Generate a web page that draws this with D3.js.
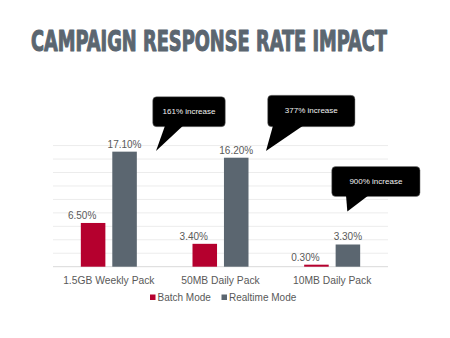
<!DOCTYPE html>
<html><head><meta charset="utf-8">
<script src="https://cdn.jsdelivr.net/npm/d3@7"></script>
<style>html,body{margin:0;padding:0;background:#fff;}svg{display:block;}</style>
</head><body>
<svg id="c" width="450" height="338"></svg>
<script>
const categories = ["1.5GB Weekly Pack", "50MB Daily Pack", "10MB Daily Pack"];
const seriesNames = ["Batch Mode", "Realtime Mode"];
const batchValues = [6.5, 3.4, 0.3];
const realtimeValues = [17.1, 16.2, 3.3];
const yTicks = [0, 2, 4, 6, 8, 10, 12, 14, 16, 18];
const calloutTexts = ["161% increase", "377% increase", "900% increase"];
const calloutValues = [17.2, 17.2, 8.2]; // data-space level the tail points at

const colors = {"Batch Mode": "#b5002e", "Realtime Mode": "#5b6670"};
const svg = d3.select("#c");
const plot = {l: 53, r: 388, t: 145, b: 266.7};
const FONT = "'Liberation Sans',Arial,Helvetica,sans-serif";

svg.append("text").attr("x", 31).attr("y", 50.5)
  .attr("font-family", "'Liberation Sans Narrow','DejaVu Sans Condensed',sans-serif")
  .attr("font-weight", "bold").attr("font-size", 29)
  .attr("textLength", 356).attr("lengthAdjust", "spacingAndGlyphs")
  .attr("fill", "#5b6670").attr("stroke", "#5b6670").attr("stroke-width", 1.1)
  .attr("stroke-linejoin", "round")
  .text("CAMPAIGN RESPONSE RATE IMPACT");

const x0 = d3.scaleBand().domain(categories).range([plot.l, plot.r]).padding(0);
const groupW = 56;
const x1 = d3.scaleBand().domain(seriesNames).range([0, groupW]).paddingInner(0.22).paddingOuter(0);
const y = d3.scaleLinear().domain([0, 18]).range([plot.b, plot.b - 121.1]);

svg.append("g").selectAll("line").data(yTicks).join("line")
  .attr("x1", plot.l).attr("x2", plot.r)
  .attr("y1", d => y(d)).attr("y2", d => y(d))
  .attr("stroke", d => d === 0 ? "#d9d9d9" : "#ececec").attr("stroke-width", 1);

const rows = categories.map((c, i) => ({cat: c, vals: [
  {s: "Batch Mode", v: batchValues[i]}, {s: "Realtime Mode", v: realtimeValues[i]}]}));
const off = (x0.bandwidth() - groupW) / 2;

const g = svg.append("g").selectAll("g").data(rows).join("g")
  .attr("transform", d => `translate(${x0(d.cat) + off},0)`);
g.selectAll("rect").data(d => d.vals).join("rect")
  .attr("x", d => x1(d.s)).attr("width", x1.bandwidth())
  .attr("y", d => y(d.v)).attr("height", d => y(0) - y(d.v))
  .attr("fill", d => colors[d.s]);
g.selectAll("text").data(d => d.vals).join("text")
  .attr("x", d => x1(d.s) + x1.bandwidth() / 2 + (d.s === "Batch Mode" ? -11 : 0))
  .attr("y", d => y(d.v) - 4)
  .attr("text-anchor", "middle").attr("font-family", FONT)
  .attr("font-size", 10).attr("fill", "#595959")
  .text(d => d.v.toFixed(2) + "%");

const xAxis = svg.append("g").attr("transform", `translate(0,${plot.b})`)
  .call(d3.axisBottom(x0).tickSize(0).tickPadding(10));
xAxis.select(".domain").remove();
xAxis.selectAll("text").attr("font-family", FONT)
  .attr("font-size", 10.3).attr("fill", "#595959");

const leg = svg.append("g").attr("font-family", FONT);
const legX = [150, 221.5];
seriesNames.forEach((s, i) => {
  leg.append("rect").attr("x", legX[i]).attr("y", 294.5).attr("width", 5.5).attr("height", 5.5).attr("fill", colors[s]);
  leg.append("text").attr("x", legX[i] + 7.5).attr("y", 300.5).attr("font-size", 10)
    .attr("fill", "#595959").text(s);
});

const calloutLayout = [
  {dx: 103, box: [-3.3, -54.3, 72.6, 30], tail: [9, 27]},
  {dx: 101.3, box: [1.7, -55.7, 87.3, 31.4], tail: [7, 37]},
  {dx: 71, box: [-15.6, -45, 88.3, 30], tail: [-1.3, 21]}
];
calloutTexts.forEach((t, i) => {
  const L = calloutLayout[i];
  const tx = x0(categories[i]) + L.dx, ty = y(calloutValues[i]);
  const [bx, by, bw, bh] = L.box;
  const cg = svg.append("g").attr("transform", `translate(${tx},${ty})`);
  cg.append("rect").attr("x", bx).attr("y", by).attr("width", bw).attr("height", bh)
    .attr("rx", 4).attr("fill", "#000").attr("stroke", "#7f7f7f").attr("stroke-width", 0.5);
  cg.append("path").attr("d", `M${L.tail[0]},${by + bh - 1}L0,0L${L.tail[1]},${by + bh - 1}Z`).attr("fill", "#000");
  cg.append("text").attr("x", bx + bw / 2).attr("y", by + bh / 2 + 2.5)
    .attr("text-anchor", "middle").attr("font-family", FONT)
    .attr("font-size", 8).attr("fill", "#f2f2f2").text(t);
});
</script>
</body></html>
